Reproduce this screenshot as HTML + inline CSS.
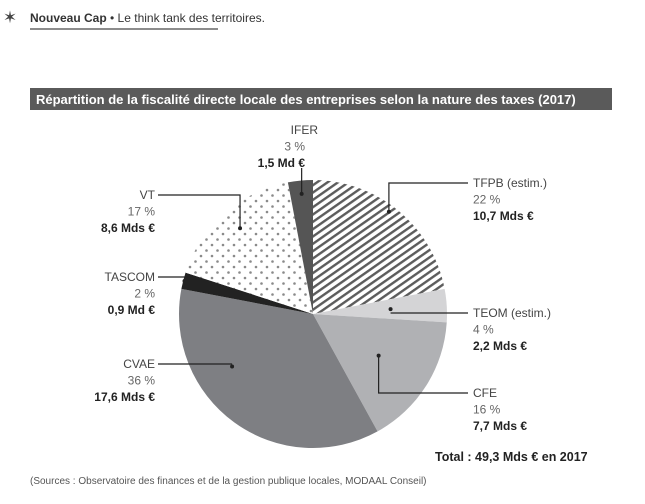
<!DOCTYPE html>
<html><head><meta charset="utf-8"><style>
body{margin:0;width:645px;height:499px;background:#fff;overflow:hidden;font-family:"Liberation Sans",sans-serif}
</style></head><body>
<svg width="645" height="499" xmlns="http://www.w3.org/2000/svg">
<defs>
<pattern id="stripes" patternUnits="userSpaceOnUse" width="6" height="6" patternTransform="rotate(-35)"><rect width="6" height="6" fill="#fff"/><rect width="6" height="2.4" fill="#5c5c5c"/></pattern>
<pattern id="dots" patternUnits="userSpaceOnUse" width="11" height="11"><rect width="11" height="11" fill="#fff"/><circle cx="3" cy="3" r="1.3" fill="#8a8a8a"/><circle cx="8.5" cy="8.5" r="1.3" fill="#8a8a8a"/></pattern>
</defs>
<g>
<text x="10" y="23" font-size="17" fill="#444" text-anchor="middle">✶</text>
<text x="30" y="22" font-size="12" fill="#333"><tspan font-weight="bold">Nouveau Cap</tspan> • Le think tank des territoires.</text>
<line x1="30" y1="29" x2="218" y2="29" stroke="#666" stroke-width="1.5"/>
</g>
<rect x="30" y="88" width="582" height="22" fill="#5a5a5a"/>
<text x="36" y="104" font-size="13" font-weight="bold" fill="#fff">Répartition de la fiscalité directe locale des entreprises selon la nature des taxes (2017)</text>
<g id="pie"></g>
<g id="labels"></g>
<text x="435" y="461" font-size="12.5" font-weight="bold" fill="#222">Total : 49,3 Mds € en 2017</text>
<text x="30" y="484" font-size="10" fill="#555">(Sources : Observatoire des finances et de la gestion publique locales, MODAAL Conseil)</text>
</svg>
<script>
const categories=["TFPB (estim.)","TEOM (estim.)","CFE","CVAE","TASCOM","VT","IFER"];
const percents=[22,4,16,36,2,17,3];
const amounts=["10,7 Mds €","2,2 Mds €","7,7 Mds €","17,6 Mds €","0,9 Md €","8,6 Mds €","1,5 Md €"];
const fills=["url(#stripes)","#d4d4d6","#b0b1b4","#7e7f83","#222","url(#dots)","#555"];
const cx=313,cy=314,r=134;
const ns="http://www.w3.org/2000/svg";
const pie=document.getElementById('pie'),lab=document.getElementById('labels');
const total=percents.reduce((a,b)=>a+b,0);
function pt(a,rr){return [cx+rr*Math.sin(a),cy-rr*Math.cos(a)];}
let acc=0;const mids=[];
percents.forEach((v,i)=>{
 const a0=acc/total*2*Math.PI;acc+=v;const a1=acc/total*2*Math.PI;
 const [x0,y0]=pt(a0,r),[x1,y1]=pt(a1,r);
 const p=document.createElementNS(ns,'path');
 p.setAttribute('d',`M${cx},${cy}L${x0},${y0}A${r},${r} 0 ${a1-a0>Math.PI?1:0} 1 ${x1},${y1}Z`);
 p.setAttribute('fill',fills[i]);
 
 
 pie.appendChild(p);
 mids.push((a0+a1)/2);
});
// label layout: textX, textY, anchor, dot radius fraction, dot angle offset (deg)
const layout=[[473,187,'start',0.95,-3],[473,317,'start',0.58,0],[473,397,'start',0.58,0],[155,368,'end',0.72,21],[155,281,'end',0.99,0],[155,199,'end',0.84,1],[305,134,'end',0.9,0]];
layout.forEach((L,i)=>{
 const g=document.createElementNS(ns,'g');
 
 
 const [dx,dy]=pt(mids[i]+L[4]*Math.PI/180,r*L[3]);
 const ly=L[1]-4;
 let d;
 if(i==6){d=`M${dx},${ly+38}L${dx},${dy}`;}
 else{const ex=L[2]=='start'?L[0]-5:L[0]+3;d=Math.abs(dy-ly)<6?`M${dx},${ly}L${ex},${ly}`:`M${dx},${dy}L${dx},${ly}L${ex},${ly}`;}
 const line=document.createElementNS(ns,'path');line.setAttribute('d',d);line.setAttribute('stroke','#222');line.setAttribute('fill','none');line.setAttribute('stroke-width','1.2');
 g.appendChild(line);
 const c=document.createElementNS(ns,'circle');c.setAttribute('cx',dx);c.setAttribute('cy',dy);c.setAttribute('r',2);c.setAttribute('fill','#222');g.appendChild(c);
 const name=i==6?'IFER':categories[i];
 [[name,'#444','normal'],[percents[i]+' %','#666','normal'],[amounts[i],'#222','bold']].forEach((t,k)=>{
  const tx=document.createElementNS(ns,'text');
  tx.setAttribute('x',i==6&&k==0?318:L[0]);tx.setAttribute('y',L[1]+k*16.5);
  tx.setAttribute('text-anchor',L[2]);tx.setAttribute('font-size','12');
  tx.setAttribute('fill',t[1]);tx.setAttribute('font-weight',t[2]);tx.textContent=t[0];
  g.appendChild(tx);
 });
 lab.appendChild(g);
});
</script>
</body></html>
